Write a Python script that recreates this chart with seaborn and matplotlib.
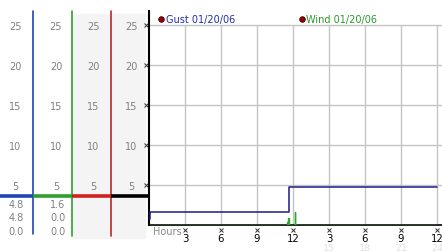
import matplotlib
matplotlib.use("Agg")
import matplotlib.pyplot as plt
import seaborn as sns
import pandas as pd
import numpy as np

# ---- data ----
gust_hours = [0.0, 0.08, 11.65, 24.0]
gust_mph = [0.8, 1.6, 4.8, 4.8]
wind_hours = [0.0, 11.50, 11.55, 11.62, 11.67, 12.15, 12.20, 24.0]
wind_mph = [0.0, 0.4, 0.0, 0.9, 0.0, 1.6, 0.0, 0.0]
y_ticks = [5, 10, 15, 20, 25]
x_ticks = [3, 6, 9, 12, 15, 18, 21, 24]
x_labels = ["3", "6", "9", "12", "3", "6", "9", "12"]
x_labels2 = ["", "", "", "", "15", "18", "21", "24"]
legend_labels = ["Gust 01/20/06", "Wind 01/20/06"]
gust_stats = ["4.8", "4.8", "0.0"]
wind_stats = ["1.6", "0.0", "0.0"]

W, H = 442, 253
sns.set_style("white")
plt.rcParams["font.family"] = ["DejaVu Sans"]

fig = plt.figure(figsize=(W / 100, H / 100), dpi=100)
fig.patch.set_facecolor("white")

# overlay axes in pixel coordinates (top-left origin)
ov = fig.add_axes([0, 0, 1, 1])
ov.set_xlim(0, W)
ov.set_ylim(H, 0)
ov.axis("off")
ov.set_zorder(0)

# main axes: y=0 at px 226, 8 px per unit; x=0 at px 149, 12 px per hour
x0, x1 = 149, 442
ytop, ybot = 12, 226
ax = fig.add_axes([x0 / W, (H - ybot) / H, (x1 - x0) / W, (ybot - ytop) / H])
ax.set_zorder(2)
ax.patch.set_alpha(0)
ax.set_xlim(0, (x1 - x0) / 12)
ax.set_ylim(0, (ybot - ytop) / 8)

grid_c = "#c4c4c4"
for yv in y_ticks:
    ax.axhline(yv, color=grid_c, lw=1, zorder=0)
ax.vlines(x_ticks, 0, 25, color=grid_c, lw=1, zorder=0)

df_w = pd.DataFrame({"hour": wind_hours, "mph": wind_mph})
df_g = pd.DataFrame({"hour": gust_hours, "mph": gust_mph})
sns.lineplot(data=df_w, x="hour", y="mph", drawstyle="steps-post", color="#2fa82f",
             lw=1, ax=ax, estimator=None, sort=False, zorder=3)
sns.lineplot(data=df_g, x="hour", y="mph", drawstyle="steps-post", color="#1a1a8a",
             lw=1.1, ax=ax, estimator=None, sort=False, zorder=4)

for s in ["top", "right"]:
    ax.spines[s].set_visible(False)
ax.spines["left"].set_color("black")
ax.spines["left"].set_linewidth(1.5)
ax.spines["bottom"].set_color("black")
ax.spines["bottom"].set_linewidth(1.2)
ax.set_xlabel("")
ax.set_ylabel("")
ax.set_yticks([])
ax.set_xticks(x_ticks)
ax.set_xticklabels(x_labels, fontsize=7.3, color="black")
ax.tick_params(axis="x", length=0, pad=6)


def px(hx, yv):
    d = ax.transData.transform((hx, yv))
    return d[0], H - d[1]


# secondary faint labels and x marks
for h, lab in zip(x_ticks, x_labels2):
    xp, yp = px(h, 0)
    ov.plot([xp], [yp + 4.5], marker="x", ms=2.3, mew=0.7, color="#333333")
    if lab:
        ov.text(xp, yp + 22.5, lab, fontsize=6.8, color="#e0e0e0", ha="center", va="center")

ov.text(153, 232, "Hours", fontsize=7, color="#8a8a8a", ha="left", va="center")

# y tick x marks at axis
for yv in y_ticks:
    xp, yp = px(0, yv)
    ov.plot([xp - 3], [yp], marker="x", ms=2.5, mew=0.7, color="#333333", zorder=5)

# left panel
ov.add_patch(plt.Rectangle((72, 15), 73, 224, color="#f4f4f4", zorder=0))
col_centers = [15, 56, 93, 131]
col_lines = [(33, "#1f45b5", 12, 235), (72, "#2ea02e", 12, 237), (111, "#b52a2a", 12, 237)]
for xl, c, ya, yb in col_lines:
    ov.plot([xl, xl], [ya, yb], color=c, lw=1.2, zorder=2)
bar_y = 196.5
bars = [(0, 33, "#1f45b5"), (33, 72, "#2ea02e"), (72, 111, "#d02020"), (111, 149, "black")]
for xa, xb, c in bars:
    ov.plot([xa, xb], [bar_y, bar_y], color=c, lw=2.6, solid_capstyle="butt", zorder=3)
for yv in y_ticks:
    _, yp = px(0, yv)
    for xc in col_centers:
        ov.text(xc, yp + 0.5, str(yv), fontsize=7, color="#808080", ha="center", va="center")
for i, (g, w) in enumerate(zip(gust_stats, wind_stats)):
    yp = 205 + 13.3 * i
    ov.text(16, yp, g, fontsize=7, color="#808080", ha="center", va="center")
    ov.text(58, yp, w, fontsize=7, color="#808080", ha="center", va="center")

# legend
leg = [(161, legend_labels[0], "#1f2fa5"), (302, legend_labels[1], "#2a9a2a")]
for xd, lab, c in leg:
    ov.plot([xd], [19.5], marker="o", ms=4, color="#a00000", mec="#300000", mew=0.6)
    ov.text(xd + 4.5, 19.5, lab, fontsize=7, color=c, ha="left", va="center")

fig.savefig("out.png", dpi=100, facecolor="white")
